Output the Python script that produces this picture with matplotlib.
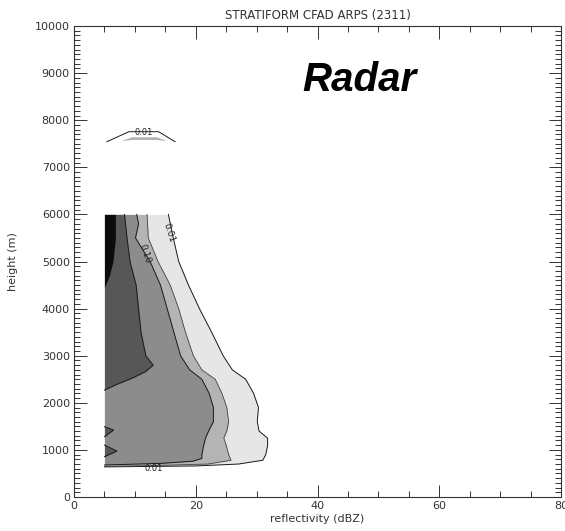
import matplotlib
matplotlib.use("Agg")
import matplotlib.pyplot as plt
from matplotlib.ticker import MultipleLocator

# contour shading, lightest to darkest (frequency bands of the CFAD)
shade_colors = ["#e6e6e6", "#b4b4b4", "#8c8c8c", "#575757", "#0c0c0c"]

X_LEFT = 5.0  # lowest reflectivity bin (dBZ)

# 0.01 contour: right edge (dBZ) vs height (m)
h_001 = [6000, 5500, 5000, 4500, 4000, 3500, 3000, 2700, 2500, 2200, 1900,
         1600, 1400, 1250, 1100, 900, 780, 700, 660, 640]
x_001 = [15.5, 16.3, 17.2, 18.8, 20.6, 22.6, 24.5, 26.0, 28.2, 29.5, 30.3,
         30.1, 30.4, 31.8, 31.8, 31.5, 31.0, 27.0, 20.0, 5.0]

# next band edge
h_005 = [6000, 5500, 5000, 4500, 4000, 3500, 3000, 2700, 2500, 2200, 1900,
         1600, 1400, 1250, 1100, 900, 780, 700, 665, 650]
x_005 = [12.0, 12.2, 13.8, 15.8, 17.2, 18.3, 19.6, 21.0, 23.2, 24.3, 25.1,
         25.4, 25.1, 24.6, 25.0, 25.4, 25.8, 22.0, 12.0, 5.0]

# 0.10 contour
h_010 = [6000, 5800, 5500, 5000, 4500, 4000, 3500, 3000, 2700, 2500, 2200,
         1900, 1600, 1400, 1250, 1100, 900, 820, 760, 715, 680]
x_010 = [10.3, 10.6, 10.1, 12.5, 14.2, 15.3, 16.4, 17.5, 19.0, 21.0, 22.2,
         22.9, 22.9, 22.1, 21.6, 21.3, 21.0, 21.0, 19.5, 14.4, 5.0]

# darker core
h_dark = [6000, 5500, 5000, 4500, 4000, 3500, 3000, 2800, 2660, 2520, 2380, 2270]
x_dark = [8.3, 8.7, 9.2, 10.2, 10.6, 11.0, 11.8, 13.0, 11.7, 9.5, 6.8, 5.0]

# small dark notches near the left edge
notch_h = [[1493, 1423, 1281], [1104, 977, 856]]
notch_x = [[5.0, 6.5, 5.0], [5.0, 7.05, 5.0]]

# darkest core at the top
h_black = [6000, 5500, 5000, 4700, 4450]
x_black = [6.8, 6.8, 6.4, 5.8, 5.0]

# isolated 0.01 patch aloft
arc_x = [5.4, 9.0, 13.9, 16.6]
arc_h = [7544, 7756, 7756, 7544]
sliver_x = [7.9, 9.5, 13.5, 15.0]
sliver_top = [7580, 7650, 7650, 7580]
sliver_bot = [7570, 7590, 7590, 7570]

fig = plt.figure(figsize=(5.65, 5.31), dpi=100)
ax = fig.add_axes([0.131, 0.064, 0.862, 0.887])

bands = [(h_001, x_001), (h_005, x_005), (h_010, x_010), (h_dark, x_dark)]
for (hh, xx), c in zip(bands, shade_colors):
    ax.fill_betweenx(hh, X_LEFT, xx, color=c, lw=0)
for hh, xx in zip(notch_h, notch_x):
    ax.fill_betweenx(hh, X_LEFT, xx, color=shade_colors[3], lw=0)
ax.fill_betweenx(h_black, X_LEFT, x_black, color=shade_colors[4], lw=0)

# contour lines
line_kw = dict(color="#1a1a1a", lw=0.7)
ax.plot(x_001, h_001, **line_kw)
ax.plot(x_005, h_005, color="#444444", lw=0.6)
ax.plot(x_010, h_010, **line_kw)
ax.plot(x_dark, h_dark, **line_kw)
for hh, xx in zip(notch_h, notch_x):
    ax.plot(xx, hh, **line_kw)

ax.fill_between(sliver_x, sliver_bot, sliver_top, color="#b4b4b4", lw=0)
ax.plot(arc_x, arc_h, **line_kw)

# contour labels
lab_kw = dict(fontsize=6.5, color="#222222", ha="center", va="center")
ax.text(15.6, 5600, "0.01", rotation=-72, **lab_kw)
ax.text(11.6, 5170, "0.10", rotation=-72, **lab_kw)
ax.text(11.4, 7740, "0.01", fontsize=6, color="#222222", ha="center", va="center")
ax.text(13.1, 600, "0.01", fontsize=6, color="#222222", ha="center", va="center")

ax.set_xlim(0, 80)
ax.set_ylim(0, 10000)
ax.xaxis.set_major_locator(MultipleLocator(20))
ax.xaxis.set_minor_locator(MultipleLocator(5))
ax.yaxis.set_major_locator(MultipleLocator(1000))
ax.yaxis.set_minor_locator(MultipleLocator(100))
ax.tick_params(which="both", direction="in", top=True, right=True,
               colors="#333333", labelsize=8, width=0.7)
ax.tick_params(which="major", length=9, pad=3)
ax.tick_params(which="minor", length=4.5)
for s in ax.spines.values():
    s.set_linewidth(0.8)
    s.set_color("#333333")

ax.set_title("STRATIFORM CFAD ARPS (2311)", fontsize=8.5, color="#333333", pad=5)
ax.set_xlabel("reflectivity (dBZ)", fontsize=8, color="#333333", labelpad=2)
ax.set_ylabel("height (m)", fontsize=8, color="#333333", labelpad=12)

fig.text(359 / 565, 1 - 80 / 531, "Radar", fontsize=29, fontweight="bold",
         fontstyle="italic", family="Liberation Sans", ha="center", va="center")

fig.savefig("out.png", dpi=100)
